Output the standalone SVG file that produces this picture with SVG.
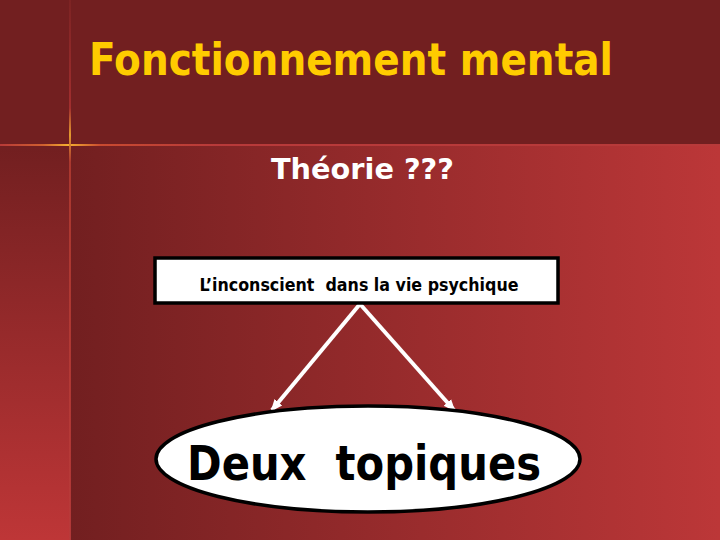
<svg xmlns="http://www.w3.org/2000/svg" width="720" height="540" viewBox="0 0 720 540">
<defs>
<linearGradient id="gMain" x1="0" y1="0" x2="1" y2="0">
<stop offset="0" stop-color="#721F20"/>
<stop offset="1" stop-color="#BC3738"/>
</linearGradient>
<linearGradient id="gLeft" x1="0" y1="0" x2="0" y2="1">
<stop offset="0" stop-color="#721F20"/>
<stop offset="1" stop-color="#BE3637"/>
</linearGradient>
<linearGradient id="gH" x1="0" y1="0" x2="1" y2="0">
<stop offset="0" stop-color="#B83A38"/>
<stop offset="0.06" stop-color="#D06030"/>
<stop offset="0.095" stop-color="#F5B030"/>
<stop offset="0.14" stop-color="#C84A30"/>
<stop offset="0.3" stop-color="#B83A3A"/>
<stop offset="1" stop-color="#B83A3A"/>
</linearGradient>
<linearGradient id="gV" x1="0" y1="0" x2="0" y2="1">
<stop offset="0" stop-color="#7E2424"/>
<stop offset="0.2" stop-color="#A63030"/>
<stop offset="0.25" stop-color="#F0A830"/>
<stop offset="0.3" stop-color="#B03A30"/>
<stop offset="1" stop-color="#B83A3A"/>
</linearGradient>
<marker id="ah" markerWidth="12" markerHeight="12" refX="10" refY="6" orient="auto" markerUnits="userSpaceOnUse">
<path d="M0,1 L12,6 L0,11 z" fill="#FFFFFF"/>
</marker>
<style>
.title{font-family:"DejaVu Sans",Verdana,sans-serif;font-weight:bold;fill:#FFCC00}
.sub{font-family:"DejaVu Sans",Verdana,sans-serif;font-weight:bold;fill:#FFFFFF}
.lbl{font-family:"DejaVu Sans",Verdana,sans-serif;font-weight:bold;fill:#000000}
.conn{stroke:#FFFFFF;stroke-width:4;fill:none;marker-end:url(#ah)}
.shape{fill:#FFFFFF;stroke:#000000;stroke-width:3.5}
</style>
</defs>
<rect x="0" y="0" width="720" height="540" fill="#721F20"/>
<rect x="70" y="146" width="650" height="394" fill="url(#gMain)"/>
<rect x="0" y="146" width="70" height="394" fill="url(#gLeft)"/>
<rect x="0" y="144" width="720" height="2" fill="url(#gH)"/>
<rect x="69" y="0" width="2" height="540" fill="url(#gV)" opacity="0.9"/>
<text class="title" x="89" y="75" font-size="44" textLength="524" lengthAdjust="spacingAndGlyphs">Fonctionnement mental</text>
<text class="sub" x="271" y="179" font-size="29" textLength="183" lengthAdjust="spacingAndGlyphs">Théorie ???</text>
<g id="connectors">
<line class="conn" x1="360" y1="304" x2="272" y2="410"/>
<line class="conn" x1="360" y1="304" x2="454" y2="410"/>
</g>
<g id="node-inconscient">
<rect class="shape" x="155" y="258" width="403" height="45"/>
<text class="lbl" x="359" y="291" font-size="18.5" text-anchor="middle" textLength="319" lengthAdjust="spacingAndGlyphs" xml:space="preserve">L’inconscient  dans la vie psychique</text>
</g>
<g id="node-topiques">
<ellipse class="shape" cx="368" cy="459" rx="212" ry="53"/>
<text class="lbl" x="364" y="480" font-size="48" text-anchor="middle" textLength="354" lengthAdjust="spacingAndGlyphs" xml:space="preserve">Deux  topiques</text>
</g>
</svg>
